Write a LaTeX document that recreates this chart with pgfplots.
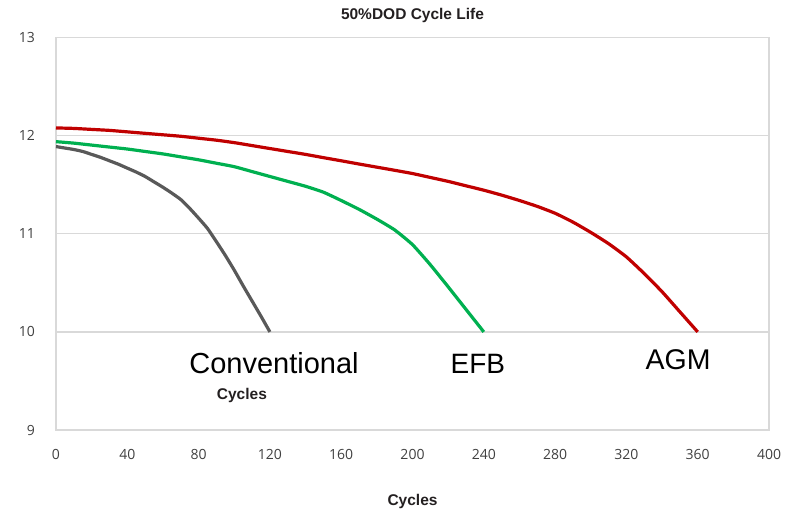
\documentclass[border=0pt]{standalone}
\usepackage{pgfplots}
\pgfplotsset{compat=1.18}
\usepackage{fontspec}
\setmainfont{Liberation Sans}
\newfontfamily\tickfont{Open Sans}
\definecolor{agm}{HTML}{C00000}
\definecolor{efb}{HTML}{00B050}
\definecolor{conv}{HTML}{595959}
\definecolor{gridc}{HTML}{D9D9D9}
\definecolor{txt}{HTML}{231F20}
\definecolor{tick}{HTML}{404040}
\begin{document}
\begin{tikzpicture}
\begin{axis}[
  width=713bp, height=392.3bp, scale only axis,
  xmin=0, xmax=400, ymin=9, ymax=13,
  xtick={0,40,...,400}, ytick={9,10,11,12,13},
  major tick length=0pt,
  ymajorgrids, grid style={gridc, line width=1.2bp},
  axis line style={gridc, line width=1.2bp},
  tick label style={font=\tickfont\fontsize{14bp}{16bp}\selectfont, text=tick},
  /pgf/number format/assume math mode=true,
  yticklabel style={anchor=east, inner sep=0pt, xshift=-21bp},
  xticklabel style={anchor=north, inner sep=0pt, yshift=-19bp},
  title={50\%DOD Cycle Life},
  title style={at={(axis description cs:0.5,1)}, anchor=base, yshift=12bp, font=\bfseries\fontsize{15.5bp}{17bp}\selectfont, text=txt},
  xlabel={Cycles},
  xlabel style={at={(axis description cs:0.5,0)}, anchor=base, yshift=-75bp, font=\bfseries\fontsize{15.5bp}{17bp}\selectfont, text=txt},
  clip=false,
  every axis plot/.append style={line width=3.2bp, smooth, tension=0.3, line join=round},
]
\addplot[conv] coordinates {
 (0,11.89) (5,11.875) (10,11.86) (15,11.84) (20,11.81) (25,11.78) (30,11.745) (35,11.71) (40,11.67) (45,11.63) (50,11.585) (55,11.53) (60,11.475) (65,11.415) (70,11.35) (75,11.26) (80,11.16) (85,11.055) (90,10.92) (95,10.78) (100,10.63) (105,10.47) (110,10.315) (115,10.16) (120,10.0)};
\addplot[efb] coordinates {
 (0,11.94) (10,11.925) (20,11.905) (30,11.885) (40,11.865) (50,11.84) (60,11.815) (70,11.785) (80,11.755) (90,11.72) (100,11.685) (110,11.635) (120,11.585) (130,11.535) (140,11.485) (150,11.425) (160,11.34) (170,11.25) (180,11.15) (190,11.04) (200,10.89) (210,10.685) (220,10.46) (230,10.23) (240,10.0)};
\addplot[agm] coordinates {
 (0,12.08) (10,12.075) (20,12.065) (30,12.055) (40,12.04) (50,12.025) (60,12.01) (70,11.995) (80,11.975) (90,11.955) (100,11.93) (110,11.90) (120,11.87) (130,11.84) (140,11.81) (150,11.777) (160,11.745) (170,11.712) (180,11.68) (190,11.648) (200,11.615) (210,11.575) (220,11.535) (230,11.49) (240,11.445) (250,11.395) (260,11.34) (270,11.28) (280,11.21) (290,11.12) (300,11.015) (310,10.90) (320,10.765) (330,10.595) (340,10.41) (350,10.205) (360,10.0)};
\node[anchor=base, inner sep=0pt, font=\fontsize{29bp}{32bp}\selectfont] at (axis cs:122.3,9.572) {Conventional};
\node[anchor=base, inner sep=0pt, font=\fontsize{28bp}{32bp}\selectfont] at (axis cs:236.7,9.572) {EFB};
\node[anchor=base, inner sep=0pt, font=\fontsize{28.5bp}{32bp}\selectfont] at (axis cs:349,9.613) {AGM};
\node[anchor=base, inner sep=0pt, font=\bfseries\fontsize{15.5bp}{17bp}\selectfont, text=txt] at (axis cs:104.3,9.307) {Cycles};
\coordinate (sw) at (rel axis cs:0,0);
\coordinate (ne) at (rel axis cs:1,1);
\end{axis}
\pgfresetboundingbox
\path ([shift={(-56bp,-87bp)}]sw) rectangle ([shift={(22bp,37.7bp)}]ne);
\end{tikzpicture}
\end{document}
